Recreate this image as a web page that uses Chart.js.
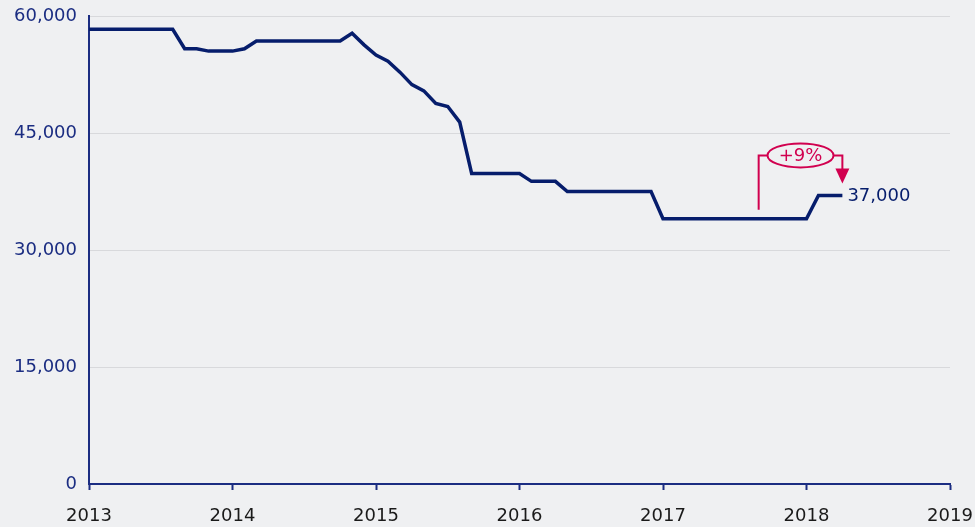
<!DOCTYPE html>
<html lang="en">
  <head>
    <meta charset="UTF-8" />
    <title>Monthly level, 2013-2018</title>
    <script src="https://cdn.jsdelivr.net/npm/chart.js"></script>
    <style>
      * {
        margin: 0;
        padding: 0;
        box-sizing: border-box;
      }

      body {
        background: #eff0f2;
        width: 975px;
        height: 527px;
        overflow: hidden;
      }

      .wrap {
        position: relative;
        width: 975px;
        height: 527px;
      }
    </style>
  </head>
  <body>
    <div class="wrap">
      <canvas id="levelChart"></canvas>
    </div>

    <script>
      // monthly values from Jan 2013 to Apr 2018
      const startYear = 2013;
      const endYear = 2019;
      const values = [
        58300, 58300, 58300, 58300, 58300, 58300, 58300, 58300,
        55800, 55800, 55500, 55500, 55500, 55800,
        56800, 56800, 56800, 56800, 56800, 56800, 56800, 56800,
        57800, 56300, 55000, 54200, 52800, 51200, 50400, 48800, 48400, 46400,
        39800, 39800, 39800, 39800, 39800,
        38800, 38800, 38800,
        37500, 37500, 37500, 37500, 37500, 37500, 37500, 37500,
        34000, 34000, 34000, 34000, 34000, 34000, 34000, 34000, 34000, 34000, 34000, 34000, 34000,
        37000, 37000, 37000,
      ];
      const yTicks = [0, 15000, 30000, 45000, 60000];
      // month index where the +x% bracket starts (low point before the rise)
      const bracketFrom = 56;

      const navy = "#061d6c";
      const axisNavy = "#1b2d82";
      const crimson = "#d1004f";
      const font = "DejaVu Sans";

      const points = values.map((v, i) => ({ x: i, y: v }));
      const last = values.length - 1;
      const change = Math.round((values[last] / values[bracketFrom] - 1) * 100);

      const annotate = {
        id: "annotate",
        afterDatasetsDraw(chart) {
          const { ctx } = chart;
          const x = chart.scales.x;
          const y = chart.scales.y;
          const ex = x.getPixelForValue(last);
          const ey = y.getPixelForValue(values[last]);

          ctx.save();
          // end value label
          ctx.font = `18px "${font}"`;
          ctx.fillStyle = navy;
          ctx.textAlign = "left";
          ctx.textBaseline = "middle";
          ctx.fillText(values[last].toLocaleString("en-US"), ex + 5, ey + 1);

          // bracket with percentage bubble and arrow
          const lx = x.getPixelForValue(bracketFrom);
          const lowY = y.getPixelForValue(values[bracketFrom]) - 9;
          const top = ey - 40;
          const cx = (lx + ex) / 2;
          const rx = 33;
          const ry = 12;
          const tipY = ey - 12;

          ctx.strokeStyle = crimson;
          ctx.lineWidth = 2;
          ctx.beginPath();
          ctx.moveTo(lx, lowY);
          ctx.lineTo(lx, top);
          ctx.lineTo(cx - rx, top);
          ctx.moveTo(cx + rx, top);
          ctx.lineTo(ex, top);
          ctx.lineTo(ex, tipY - 14);
          ctx.stroke();

          ctx.beginPath();
          ctx.ellipse(cx, top, rx, ry, 0, 0, Math.PI * 2);
          ctx.fillStyle = "#eff0f2";
          ctx.fill();
          ctx.stroke();

          ctx.fillStyle = crimson;
          ctx.beginPath();
          ctx.moveTo(ex - 7, tipY - 15);
          ctx.lineTo(ex + 7, tipY - 15);
          ctx.lineTo(ex, tipY);
          ctx.closePath();
          ctx.fill();

          ctx.textAlign = "center";
          ctx.font = `18px "${font}"`;
          ctx.fillText(`+${change}%`, cx, top + 1);
          ctx.restore();
        },
      };

      const ctx = document.getElementById("levelChart").getContext("2d");
      new Chart(ctx, {
        type: "line",
        data: {
          datasets: [
            {
              data: points,
              borderColor: navy,
              borderWidth: 3.5,
              pointRadius: 0,
              tension: 0,
              fill: false,
            },
          ],
        },
        options: {
          responsive: true,
          maintainAspectRatio: false,
          animation: false,
          layout: { padding: { top: 16, right: 25, bottom: 0, left: 0 } },
          plugins: {
            legend: { display: false },
            tooltip: { enabled: false },
          },
          scales: {
            x: {
              type: "linear",
              min: 0,
              max: (endYear - startYear) * 12,
              afterBuildTicks(scale) {
                scale.ticks = [];
                for (let yr = startYear; yr <= endYear; yr++) {
                  scale.ticks.push({ value: (yr - startYear) * 12 });
                }
              },
              afterFit(scale) {
                scale.height = 43;
                scale.paddingLeft = 0;
                scale.paddingRight = 0;
              },
              ticks: {
                callback: (v) => String(startYear + v / 12),
                color: "#1a1a1a",
                font: { family: font, size: 18 },
                padding: 16,
                maxRotation: 0,
              },
              grid: {
                drawOnChartArea: false,
                drawTicks: true,
                tickLength: 6,
                tickWidth: 2,
                color: axisNavy,
              },
              border: { color: axisNavy, width: 2 },
            },
            y: {
              min: 0,
              max: 60000,
              afterBuildTicks(scale) {
                scale.ticks = yTicks.map((v) => ({ value: v }));
              },
              afterFit(scale) {
                scale.width = 89;
                scale.paddingTop = 0;
                scale.paddingBottom = 0;
              },
              ticks: {
                callback: (v) => v.toLocaleString("en-US"),
                color: axisNavy,
                font: { family: font, size: 18 },
                padding: 12,
              },
              grid: {
                drawTicks: false,
                color: "#d8d9dc",
                lineWidth: 1,
              },
              border: { color: axisNavy, width: 2 },
            },
          },
        },
        plugins: [annotate],
      });
    </script>
  </body>
</html>
